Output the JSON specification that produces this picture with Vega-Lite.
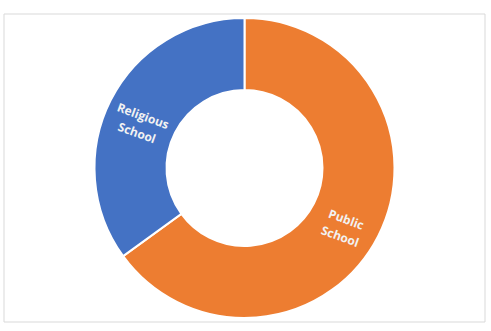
{
  "$schema": "https://vega.github.io/schema/vega-lite/v6.json",
  "width": 481,
  "height": 308,
  "padding": {"left": 4, "top": 14, "right": 6, "bottom": 9},
  "autosize": {"type": "none"},
  "background": "white",
  "config": {"view": {"stroke": null}},
  "data": {
    "values": [
      {"school": "Public School", "label": "Public\nSchool", "value": 65, "o": 1},
      {"school": "Religious School", "label": "Religious\nSchool", "value": 35, "o": 2}
    ]
  },
  "layer": [
    {
      "data": {"values": [{"frame": 1}]},
      "mark": {"type": "rect", "fill": null, "stroke": "#d9d9d9", "strokeWidth": 1},
      "encoding": {}
    },
    {
      "mark": {"type": "arc", "outerRadius": 150, "innerRadius": 78, "stroke": "white", "strokeWidth": 2},
      "encoding": {
        "theta": {"field": "value", "type": "quantitative", "stack": true},
        "order": {"field": "o", "type": "quantitative"},
        "color": {
          "field": "school",
          "type": "nominal",
          "scale": {"domain": ["Public School", "Religious School"], "range": ["#ED7D31", "#4472C4"]},
          "legend": null
        }
      }
    },
    {
      "mark": {"type": "text", "radius": 114, "angle": 20, "lineBreak": "\n", "lineHeight": 18, "font": "Open Sans", "fontWeight": "bold", "fontSize": 12, "fill": "#f2f2f2"},
      "encoding": {
        "theta": {"field": "value", "type": "quantitative", "stack": true},
        "order": {"field": "o", "type": "quantitative"},
        "text": {"field": "label"}
      }
    }
  ]
}
